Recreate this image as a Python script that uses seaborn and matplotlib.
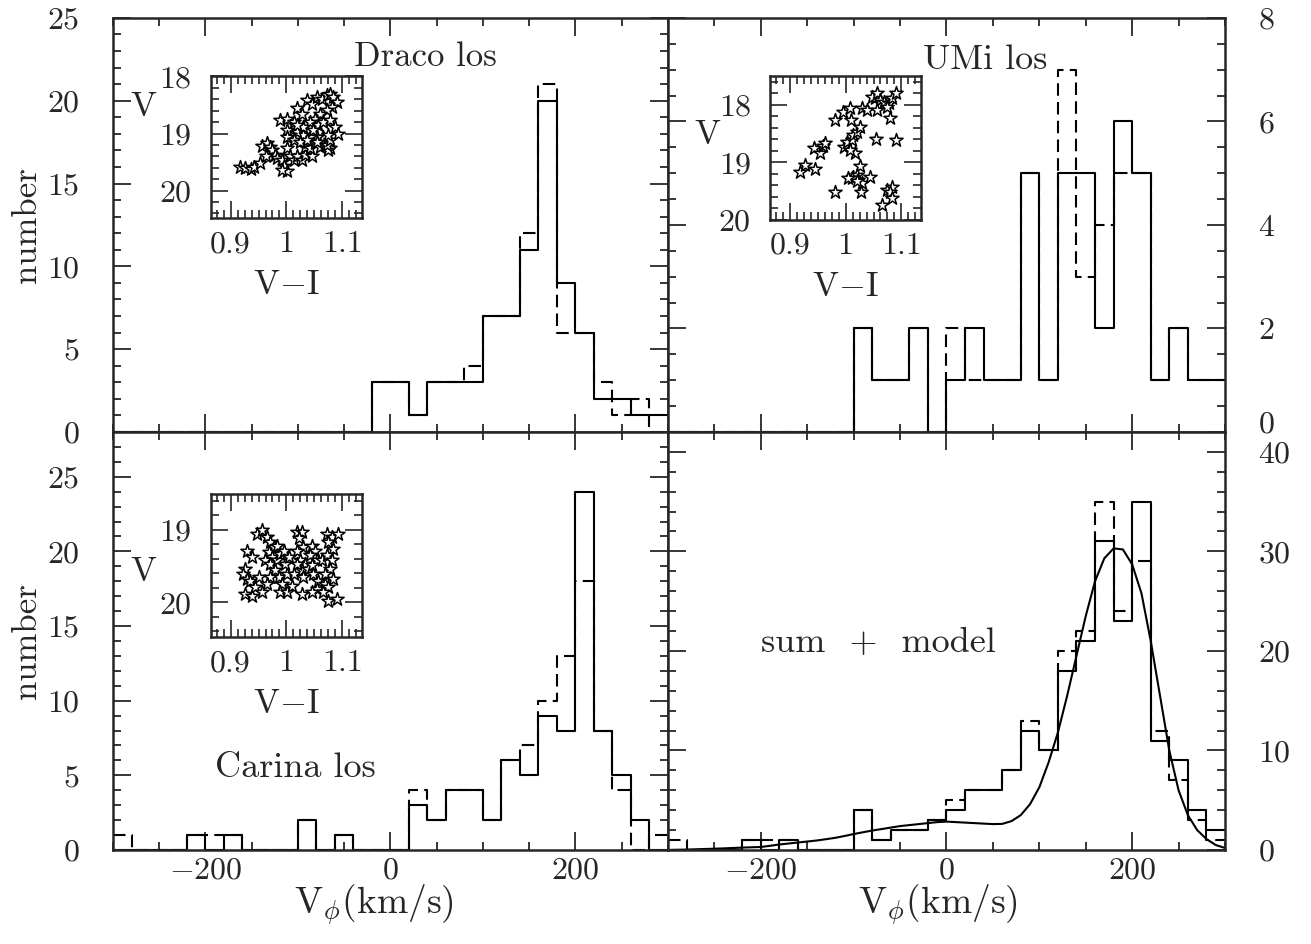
import numpy as np
import pandas as pd
import matplotlib
matplotlib.use('Agg')
import matplotlib.pyplot as plt
from matplotlib.ticker import MultipleLocator, FuncFormatter
import seaborn as sns

# ============ DATA ============
# bin edges (20 km/s bins from -300 to 300)
edges = list(range(-300, 301, 20))
centers = [e + 10 for e in edges[:-1]]

#                 -300            -200                -100                  0                  100                 200                 300
draco_solid  = [0, 0, 0, 0, 0, 0, 0, 0, 0, 0, 0, 0, 0, 0, 3, 3, 1, 3, 3, 3, 7, 7, 11, 20, 9, 6, 2, 2, 1, 1]
draco_dashed = [0, 0, 0, 0, 0, 0, 0, 0, 0, 0, 0, 0, 0, 0, 3, 3, 1, 3, 3, 4, 7, 7, 12, 21, 6, 6, 3, 1, 2, 0]

umi_solid    = [0, 0, 0, 0, 0, 0, 0, 0, 0, 0, 2, 1, 1, 2, 0, 1, 2, 1, 1, 5, 1, 5, 5, 2, 6, 5, 1, 2, 1, 1]
umi_dashed   = [0, 0, 0, 0, 0, 0, 0, 0, 0, 0, 2, 1, 1, 2, 0, 2, 1, 1, 1, 5, 1, 7, 3, 4, 5, 5, 1, 2, 1, 1]

carina_solid  = [0, 0, 0, 0, 1, 0, 1, 0, 0, 0, 2, 0, 1, 0, 0, 0, 3, 2, 4, 4, 2, 6, 5, 9, 8, 24, 8, 5, 2, 0]
carina_dashed = [1, 0, 0, 0, 1, 1, 1, 0, 0, 0, 2, 0, 1, 0, 0, 0, 4, 2, 4, 4, 2, 6, 7, 10, 13, 18, 8, 4, 0, 1]

sum_solid  = [0, 0, 0, 0, 1, 0, 1, 0, 0, 0, 4, 1, 2, 2, 3, 4, 6, 6, 8, 12, 10, 18, 21, 31, 23, 35, 11, 9, 4, 2]
sum_dashed = [1, 0, 0, 0, 1, 1, 1, 0, 0, 0, 4, 1, 2, 2, 3, 5, 6, 6, 8, 13, 10, 20, 22, 35, 24, 29, 12, 7, 3, 1]

# model curve
model_v = [-300, -290, -280, -270, -260, -250, -240, -230, -220, -210, -200, -190, -180, -170, -160,
           -150, -140, -130, -120, -110, -100, -90, -80, -70, -60, -50, -40, -30, -20, -10,
           0, 10, 20, 30, 40, 50, 60, 70, 80, 90, 100, 110, 120, 130, 140,
           150, 160, 170, 180, 190, 200, 210, 220, 230, 240, 250, 260, 270, 280, 290, 300]
model_n = [0.0, 0.02, 0.04, 0.07, 0.1, 0.13, 0.16, 0.2, 0.24, 0.27, 0.3, 0.42, 0.55, 0.65, 0.75,
           0.85, 0.95, 1.08, 1.22, 1.4, 1.6, 1.78, 1.95, 2.1, 2.25, 2.4, 2.5, 2.6, 2.7, 2.8,
           2.85, 2.8, 2.75, 2.7, 2.65, 2.6, 2.62, 2.9, 3.5, 4.6, 6.3, 8.8, 11.8, 15.5, 19.5,
           23.5, 27.0, 29.3, 30.3, 30.2, 28.7, 25.8, 21.0, 15.5, 10.0, 6.0, 3.5, 2.0, 1.1, 0.5, 0.2]

# colour-magnitude insets (V-I, V)
draco_vi = [0.917, 0.926, 0.936, 0.942, 0.952, 0.956, 0.965, 0.970, 0.974, 0.980, 0.964, 0.983, 0.992,
            0.996, 1.001, 0.992, 1.001, 1.007, 1.013, 1.019, 1.027, 1.033, 1.045, 1.033, 1.042, 1.051,
            1.060, 1.069, 1.078, 1.075, 0.989, 1.001, 1.013, 1.019, 1.027, 1.036, 1.045, 1.054, 1.063,
            1.072, 1.078, 1.084, 1.090, 1.081, 1.072, 1.060, 1.051, 1.042, 1.057, 1.066, 1.078, 1.087,
            1.093, 1.066, 1.054, 1.042, 1.030, 1.019, 1.007, 1.001, 1.001, 1.013, 1.025, 1.036, 1.054,
            1.072, 1.078, 1.048, 1.030, 1.019, 1.075]
draco_v = [19.59, 19.61, 19.62, 19.59, 19.52, 19.22, 19.17, 19.24, 19.29, 19.37, 19.40, 19.43, 19.46,
           19.57, 19.66, 19.63, 19.26, 19.40, 19.46, 19.40, 19.46, 19.37, 19.40, 19.23, 19.26, 19.17,
           19.23, 19.20, 19.26, 19.29, 18.77, 18.74, 18.79, 18.56, 18.65, 18.42, 18.48, 18.36, 18.39,
           18.33, 18.30, 18.36, 18.45, 18.53, 18.59, 18.65, 18.74, 18.79, 18.85, 18.79, 18.77, 18.88,
           19.00, 19.06, 19.06, 19.06, 19.03, 18.97, 19.03, 18.94, 19.06, 19.11, 19.14, 19.11, 19.14,
           19.20, 19.11, 18.94, 18.88, 18.85, 19.03]

umi_vi = [0.919, 0.928, 0.945, 0.944, 0.954, 0.960, 0.963, 0.981, 0.981, 0.996, 1.008, 1.009, 0.998,
          1.002, 1.011, 1.014, 1.020, 1.026, 1.017, 1.008, 1.026, 1.014, 1.020, 1.023, 1.029, 1.044,
          1.027, 1.053, 1.047, 1.056, 1.062, 1.068, 1.077, 1.074, 1.083, 1.091, 1.029, 1.038, 1.056,
          1.080, 1.054, 1.091, 1.065, 1.074, 1.083, 1.080, 1.083, 1.011, 1.005, 1.020]
umi_v = [19.16, 19.04, 19.12, 18.75, 18.83, 18.71, 18.67, 18.26, 19.51, 18.12, 18.06, 18.26, 18.73,
         18.64, 18.61, 18.52, 18.47, 18.38, 18.84, 18.78, 19.07, 19.25, 19.22, 19.30, 19.36, 19.26,
         19.52, 17.89, 17.86, 17.80, 17.92, 17.95, 17.97, 18.03, 17.89, 17.80, 18.06, 18.09, 18.09,
         18.23, 18.60, 18.61, 19.74, 19.48, 19.42, 19.51, 19.62, 19.28, 19.28, 19.33]

carina_vi = [0.929, 0.938, 0.926, 0.923, 0.929, 0.926, 0.938, 0.935, 0.944, 0.950, 0.956, 0.947, 0.956,
             0.965, 0.971, 0.977, 0.983, 0.968, 0.974, 0.962, 0.971, 0.983, 0.989, 0.995, 0.980, 0.986,
             0.992, 0.971, 0.965, 0.989, 1.001, 1.010, 1.001, 1.013, 1.019, 1.027, 1.022, 1.030, 1.019,
             1.025, 1.033, 1.027, 1.019, 1.039, 1.030, 1.045, 1.051, 1.042, 1.054, 1.045, 1.063, 1.048,
             1.057, 1.069, 1.054, 1.045, 1.072, 1.081, 1.093, 1.075, 1.084, 1.072, 1.081, 1.078, 1.069,
             1.084, 1.075, 1.066, 1.075, 1.090, 1.027, 0.998, 1.004]
carina_v = [19.29, 19.38, 19.54, 19.61, 19.68, 19.88, 19.91, 19.70, 19.79, 19.65, 19.86, 19.06, 19.01,
            19.10, 19.17, 19.24, 19.22, 19.31, 19.38, 19.42, 19.47, 19.42, 19.33, 19.29, 19.56, 19.65,
            19.75, 19.65, 19.75, 19.86, 19.86, 19.77, 19.61, 19.61, 19.03, 19.03, 19.12, 19.24, 19.29,
            19.42, 19.47, 19.56, 19.47, 19.54, 19.65, 19.22, 19.29, 19.35, 19.42, 19.49, 19.42, 19.61,
            19.70, 19.75, 19.82, 19.86, 19.06, 19.10, 19.06, 19.17, 19.26, 19.35, 19.42, 19.54, 19.61,
            19.68, 19.79, 19.86, 19.98, 19.95, 19.88, 19.47, 19.38]

# ============ STYLE ============
sns.set_style('ticks')
plt.rcParams['font.family'] = ['cmr10', 'DejaVu Serif']
plt.rcParams['mathtext.fontset'] = 'cm'
plt.rcParams['axes.formatter.use_mathtext'] = True
plt.rcParams['axes.linewidth'] = 1.8

FS = 23      # tick labels
TFS = 26     # panel / axis labels
YPAD = 24
LW = 1.5
DASH = (0, (6, 3))

fig = plt.figure(figsize=(13.11, 9.44), dpi=100)

ax_tl = fig.add_axes([0.0862, 0.5424, 0.4233, 0.4386])
ax_tr = fig.add_axes([0.5095, 0.5424, 0.4249, 0.4386])
ax_bl = fig.add_axes([0.0862, 0.0996, 0.4233, 0.4428])
ax_br = fig.add_axes([0.5095, 0.0996, 0.4249, 0.4428])


def hist_panel(ax, solid, dashed, ymax, ymaj, ymin):
    df = pd.DataFrame({'v': centers, 'solid': solid, 'dashed': dashed})
    sns.histplot(data=df, x='v', weights='dashed', bins=edges, element='step', fill=False,
                 color='black', linewidth=LW, linestyle=DASH, ax=ax)
    sns.histplot(data=df, x='v', weights='solid', bins=edges, element='step', fill=False,
                 color='black', linewidth=LW, ax=ax)
    ax.set_xlim(-300, 300)
    ax.set_ylim(0, ymax)
    ax.xaxis.set_major_locator(MultipleLocator(200))
    ax.xaxis.set_minor_locator(MultipleLocator(50))
    ax.yaxis.set_major_locator(MultipleLocator(ymaj))
    ax.yaxis.set_minor_locator(MultipleLocator(ymin))
    ax.tick_params(which='both', direction='in', top=True, bottom=True, left=True, right=True,
                   labelsize=FS, width=1.3)
    ax.tick_params(axis='y', pad=YPAD)
    ax.tick_params(axis='x', pad=5)
    ax.tick_params(which='major', length=13)
    ax.tick_params(which='minor', length=6)
    ax.set_xlabel('')
    ax.set_ylabel('')
    for s in ax.spines.values():
        s.set_linewidth(1.8)


hist_panel(ax_tl, draco_solid, draco_dashed, 25, 5, 1)
hist_panel(ax_tr, umi_solid, umi_dashed, 8, 2, 0.5)
hist_panel(ax_bl, carina_solid, carina_dashed, 28, 5, 1)
hist_panel(ax_br, sum_solid, sum_dashed, 42, 10, 2)

sns.lineplot(x=model_v, y=model_n, color='black', linewidth=LW, ax=ax_br)

for ax in (ax_tr, ax_br):
    ax.tick_params(labelleft=False, labelright=True)
for ax in (ax_tl, ax_tr):
    ax.tick_params(axis='x', pad=2)

# the UMi "0" sits just above the "40" of the panel below: draw it lifted a little
ax_tr.yaxis.set_major_formatter(FuncFormatter(lambda val, pos: '' if val == 0 else f'{val:g}'))
ax_tr.annotate('0', xy=(1, 0), xycoords=('axes fraction', 'data'), xytext=(YPAD, -5),
               textcoords='offset points', ha='left', va='bottom', fontsize=FS)

ax_tl.set_ylabel('number', fontsize=TFS - 1, labelpad=3)
ax_bl.set_ylabel('number', fontsize=TFS - 1, labelpad=3)
ax_bl.set_xlabel(r'V$_\phi$(km/s)', fontsize=TFS + 1)
ax_br.set_xlabel(r'V$_\phi$(km/s)', fontsize=TFS + 1)
ax_bl.xaxis.set_label_coords(0.47, -0.078)
ax_br.xaxis.set_label_coords(0.485, -0.078)

ax_tl.text(0.562, 0.906, 'Draco los', transform=ax_tl.transAxes, ha='center', va='center', fontsize=TFS - 1)
ax_tr.text(0.569, 0.899, 'UMi los', transform=ax_tr.transAxes, ha='center', va='center', fontsize=TFS)
ax_bl.text(0.328, 0.196, 'Carina los', transform=ax_bl.transAxes, ha='center', va='center', fontsize=TFS)
ax_br.text(0.377, 0.495, 'sum  +  model', transform=ax_br.transAxes, ha='center', va='center', fontsize=TFS)


# ============ INSETS ============
def cmd_inset(rect, vi, v, ylim, yticks, vlab):
    ins = fig.add_axes(rect)
    sns.scatterplot(x=vi, y=v, marker='*', s=100, facecolor='white', edgecolor='black',
                    linewidth=1.1, ax=ins)
    ins.set_xlim(0.865, 1.135)
    ins.set_ylim(*ylim)
    ins.set_xticks([0.9, 1.0, 1.1])
    ins.set_xticklabels(['0.9', '1', '1.1'])
    ins.set_yticks(yticks)
    ins.set_yticklabels([str(t) for t in yticks])
    ins.xaxis.set_minor_locator(MultipleLocator(0.0125))
    ins.yaxis.set_minor_locator(MultipleLocator(0.2))
    ins.tick_params(which='both', direction='in', top=True, bottom=True, left=True, right=True,
                    labelsize=FS, width=1.2)
    ins.tick_params(axis='y', pad=14)
    ins.tick_params(axis='x', pad=9)
    ins.tick_params(which='major', length=12)
    ins.tick_params(which='minor', length=6)
    for s in ins.spines.values():
        s.set_linewidth(1.8)
    ins.set_xlabel(r'V$-$I', fontsize=TFS - 1)
    ins.xaxis.set_label_coords(0.5, -0.36)
    ins.set_ylabel('V', fontsize=TFS - 1, rotation=0, ha='center', va='center')
    ins.yaxis.set_label_coords(*vlab)
    return ins


cmd_inset([0.161, 0.769, 0.115, 0.150], draco_vi, draco_v, (20.48, 18.0), [18, 19, 20], (-0.45, 0.78))
cmd_inset([0.5875, 0.767, 0.115, 0.1525], umi_vi, umi_v, (20.0, 17.5), [18, 19, 20], (-0.42, 0.59))
cmd_inset([0.161, 0.325, 0.115, 0.1515], carina_vi, carina_v, (20.48, 18.51), [19, 20], (-0.45, 0.455))

plt.savefig('out.png', dpi=100)
